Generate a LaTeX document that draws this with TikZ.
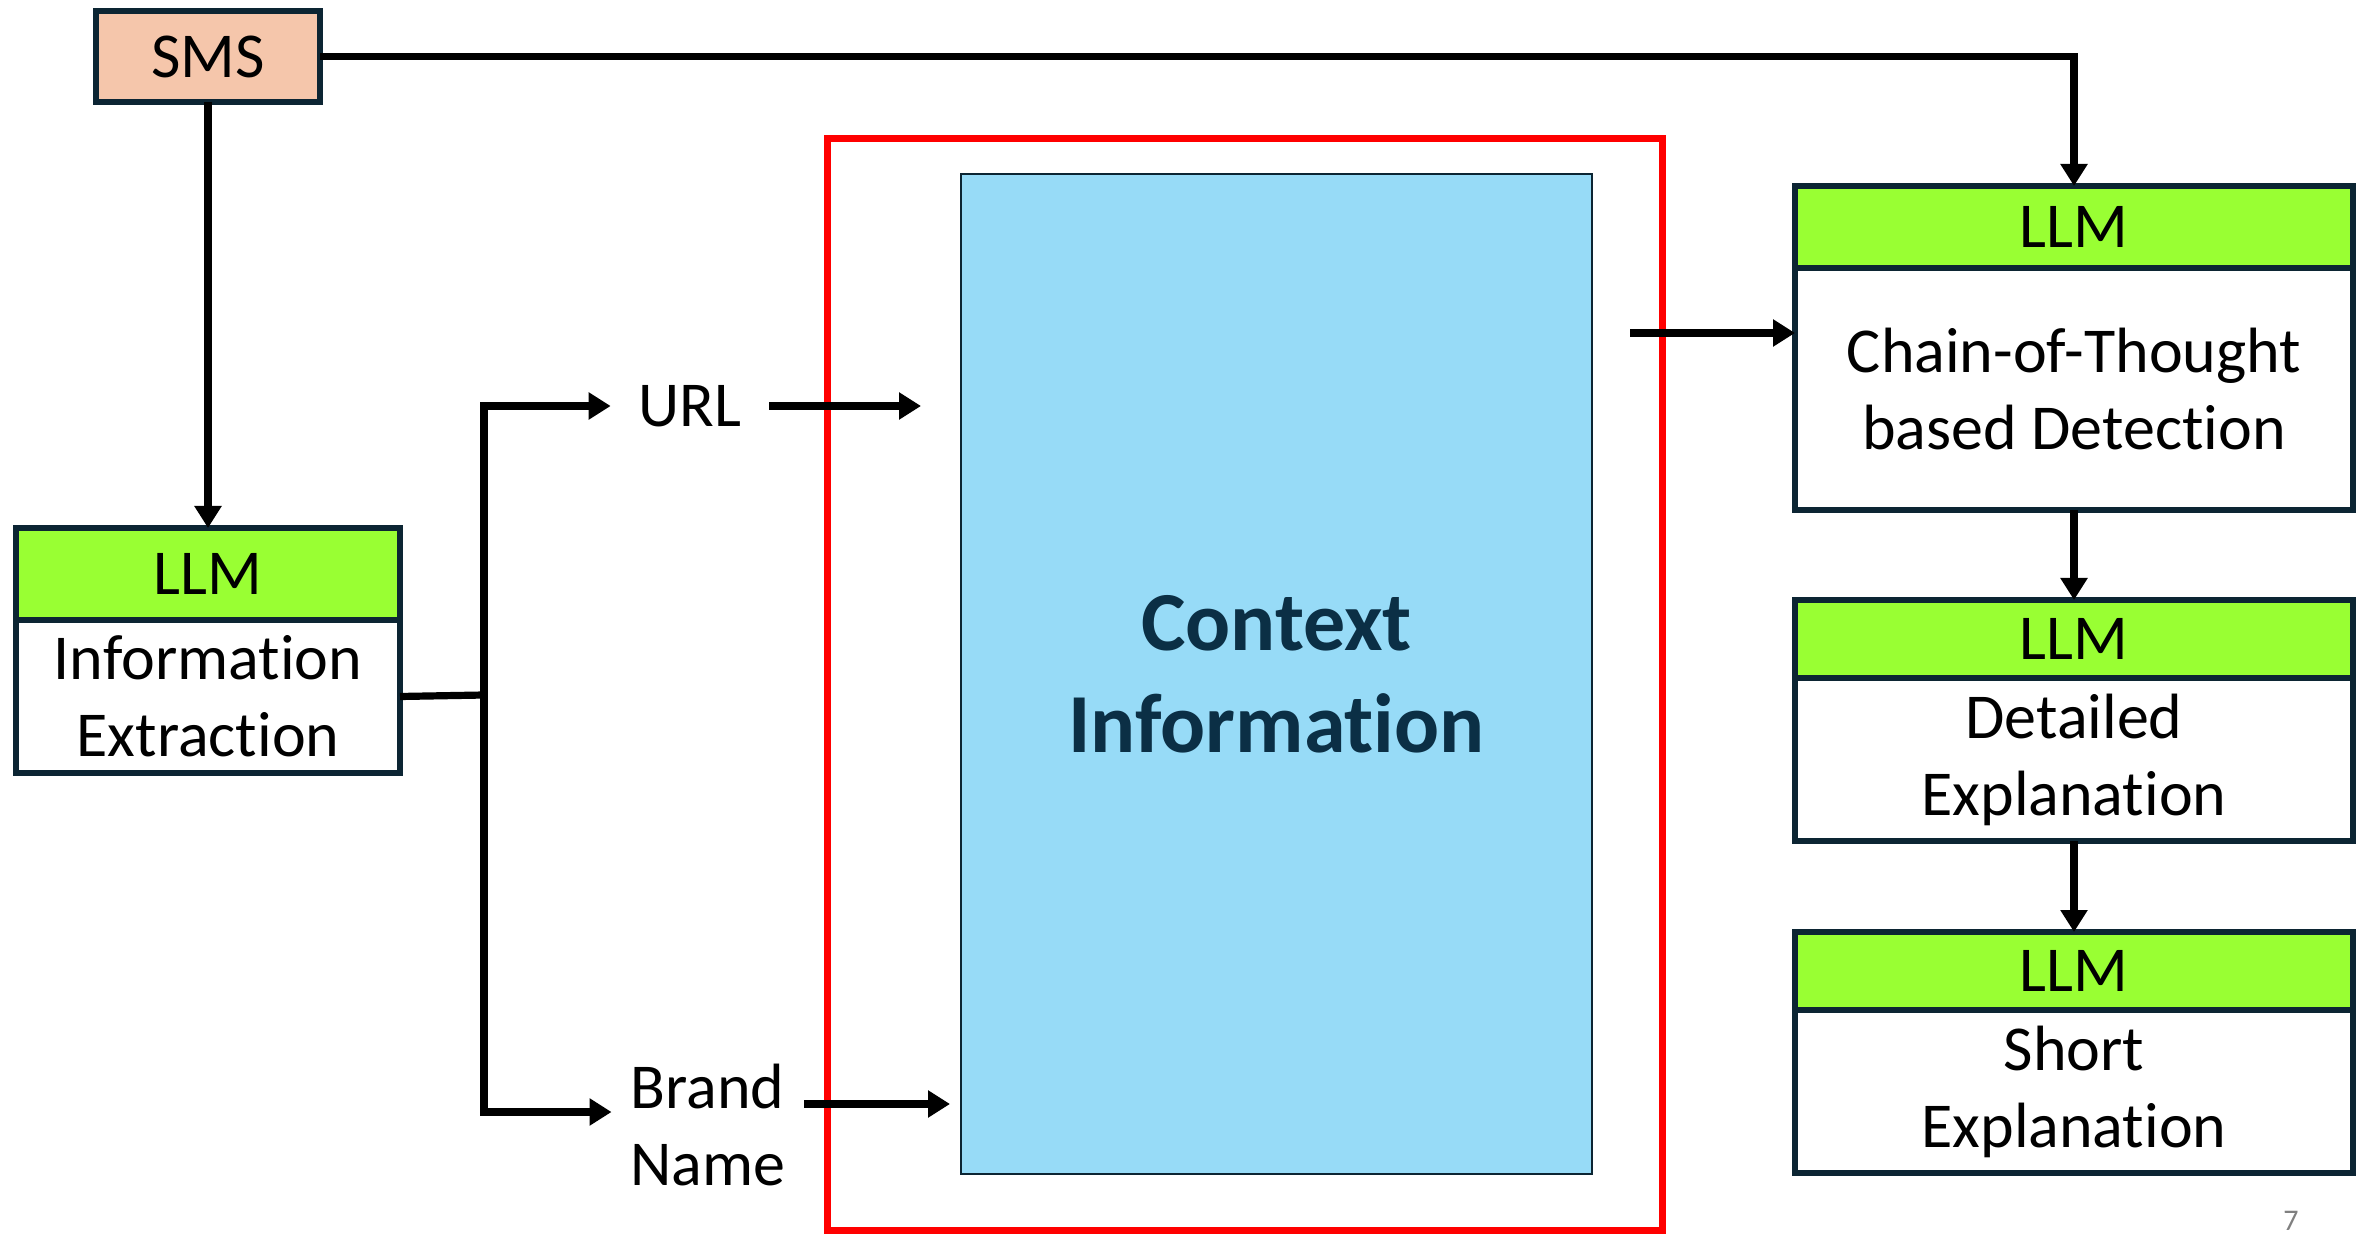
\documentclass[tikz,border=0pt]{standalone}
\usepackage{fontspec}
\setmainfont{Carlito}[Ligatures=NoCommon]
\usetikzlibrary{arrows.meta,positioning,calc}
\definecolor{smsfill}{HTML}{F5C6AB}
\definecolor{llmgreen}{HTML}{99FF33}
\definecolor{boxline}{HTML}{0C2533}
\definecolor{ctxblue}{HTML}{97DBF7}
\definecolor{ctxtext}{HTML}{0B2F45}
\definecolor{framered}{HTML}{FF0000}
\begin{document}
\begin{tikzpicture}[x=0.5pt,y=-0.5pt,
  every node/.style={inner sep=0pt, outer sep=0pt, font=\fontsize{32}{38.5}\selectfont},
  boxbase/.style={draw=boxline, line width=3.2pt, rectangle, align=center},
  smsbox/.style={boxbase, fill=smsfill, minimum width=112pt, minimum height=45.5pt},
  hdr/.style={boxbase, fill=llmgreen},
  bodybox/.style={boxbase, fill=white},
  conn/.style={line width=3.6pt, draw=black},
  arr/.style={conn, -{Triangle[length=11pt,width=13pt]}},
  lbl/.style={text=black}
]
\useasboundingbox (0,0) rectangle (2366,1234);

% red frame
\node[draw=framered, line width=3.5pt, minimum width=417.5pt, minimum height=545.5pt] (frame) at (1244.5,684.5) {};

% context box
\node[draw=boxline, line width=1.2pt, fill=ctxblue, minimum width=315.5pt, minimum height=500pt,
      align=center, text=ctxtext, font=\fontsize{42}{51}\selectfont\bfseries] (ctx) at (1276.5,674) {Context\\Information};

% SMS
\node[smsbox] (sms) at (208,56.5) {SMS};

% Information extraction
\node[bodybox, minimum width=192pt, minimum height=76.5pt] (infoB) at (208,696.5) {Information\\Extraction};
\node[hdr, minimum width=192pt, minimum height=46pt] (infoH) at (208,574) {LLM};

% right column
\node[bodybox, minimum width=279pt, minimum height=121pt] (cotB) at (2074,389) {Chain-of-Thought\\based Detection};
\node[hdr, minimum width=279pt, minimum height=41pt] (cotH) at (2074,227) {LLM};

\node[bodybox, minimum width=279pt, minimum height=81.5pt] (detB) at (2074,759.5) {Detailed\\Explanation};
\node[hdr, minimum width=279pt, minimum height=39pt] (detH) at (2074,639) {LLM};

\node[bodybox, minimum width=279pt, minimum height=81.5pt] (shB) at (2074,1091.5) {Short\\Explanation};
\node[hdr, minimum width=279pt, minimum height=39pt] (shH) at (2074,971) {LLM};

% labels
\node[lbl, inner xsep=14pt] (url) at (690,406) {URL};
\node[lbl, inner xsep=9.5pt, align=left] (brand) at (708,1125) {Brand\\Name};

% page number
\node[text=gray, font=\fontsize{15}{17}\selectfont, anchor=base] (pagenum) at (2291,1230) {7};

% coordinates
\coordinate (j) at (484,695);
\coordinate (brandin) at ([yshift=6.5pt]brand.west);
\coordinate (brandout) at ([yshift=10.5pt]brand.east);
\coordinate (cotin) at ([yshift=28pt]cotB.west);

% connectors
\draw[arr] (sms.south) -- (infoH.north);
\draw[arr] (sms.east) -| (cotH.north);
\draw[conn] (infoB.east) -- (j);
\draw[arr] (j) |- (url.west);
\draw[arr] (j) |- (brandin);
\draw[arr, shorten >=20pt] (url.east) -- (url.east -| ctx.west);
\draw[arr, shorten >=5.5pt] (brandout) -- (brandout -| ctx.west);
\draw[arr, shorten <=19pt] (cotin -| ctx.east) -- (cotin);
\draw[arr] (cotB.south) -- (detH.north);
\draw[arr] (detB.south) -- (shH.north);
\end{tikzpicture}
\end{document}
